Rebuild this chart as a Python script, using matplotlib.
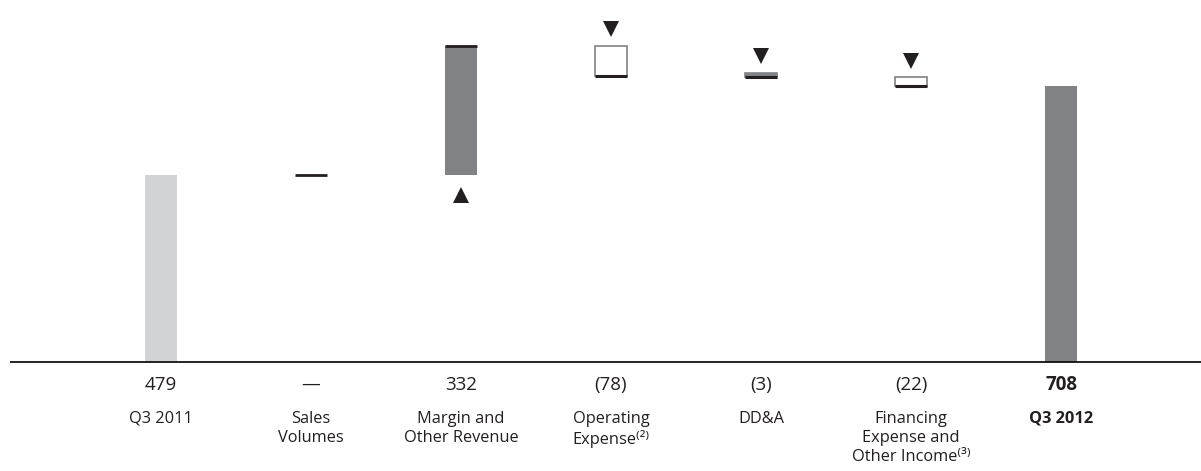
import matplotlib
matplotlib.use("Agg")
import matplotlib.pyplot as plt
from matplotlib.patches import Rectangle

plt.rcParams['font.family'] = ['Open Sans', 'DejaVu Sans']

# waterfall data (US$ millions)
categories = ["Q3 2011", "Sales\nVolumes", "Margin and\nOther Revenue",
              "Operating\nExpense\u207d\u00b2\u207e", "DD&A",
              "Financing\nExpense and\nOther Income\u207d\u00b3\u207e", "Q3 2012"]
value_labels = ["479", "\u2014", "332", "(78)", "(3)", "(22)", "708"]
start_value = 479
changes = [0, 332, -78, -3, -22]
end_value = 708

DARK = "#808285"
LIGHT = "#d1d3d4"
INK = "#231f20"
W = 0.213
MIN_H = 12  # smallest box drawn so tiny changes stay visible

fig = plt.figure(figsize=(12.01, 4.71), dpi=100)
ax = fig.add_axes([0, 0, 1, 1])
ax.set_xlim(-1.073, 6.933)
ax.set_ylim(-279.5, 928)
ax.axis('off')

# baseline
ax.plot([-1.007, 6.933], [0, 0], color='black', lw=1.2, solid_capstyle='butt')

# start / end totals
ax.bar(0, start_value, width=W, color=LIGHT, linewidth=0)
ax.bar(6, end_value, width=W, color=DARK, linewidth=0)

level = start_value
for i, ch in enumerate(changes, start=1):
    lo, hi = min(level, level + ch), max(level, level + ch)
    left = i - W / 2
    if ch == 0:
        ax.plot([left, left + W], [level, level], color=INK, lw=2,
                solid_capstyle='butt')
    elif ch > 0:
        ax.add_patch(Rectangle((left, lo), W, hi - lo, facecolor=DARK,
                               edgecolor='none'))
        ax.plot([left, left + W], [hi, hi], color=INK, lw=2,
                solid_capstyle='butt')
        ax.plot(i, lo - 52, marker='^', color=INK, markersize=12,
                markeredgewidth=0)
    else:
        h = max(hi - lo, MIN_H)
        face = DARK if hi - lo < MIN_H else 'white'
        ax.add_patch(Rectangle((left, lo), W, h, facecolor=face,
                               edgecolor=DARK, lw=1.2))
        ax.plot([left, left + W], [lo, lo], color=INK, lw=2.2,
                solid_capstyle='butt')
        ax.plot(i, lo + h + 42, marker='v', color=INK, markersize=12,
                markeredgewidth=0)
    level += ch

# labels under the axis
for i, (cat, val) in enumerate(zip(categories, value_labels)):
    bold = i == len(categories) - 1
    ax.text(i, -58, val, ha='center', va='center', fontsize=13.5,
            color=INK, fontweight='bold' if bold else 'normal')
    ax.text(i, -125, cat, ha='center', va='top', fontsize=11.8,
            color=INK, linespacing=1.25,
            fontweight='bold' if bold else 'normal')

fig.savefig("out.png", dpi=100)
